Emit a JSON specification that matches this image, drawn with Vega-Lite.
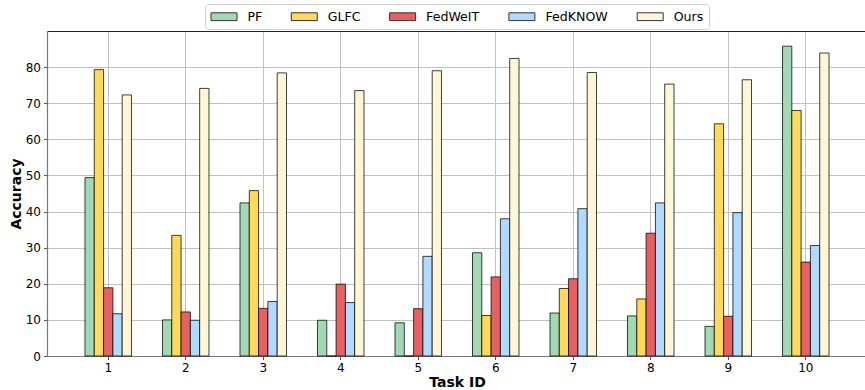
{
  "$schema": "https://vega.github.io/schema/vega-lite/v6.json",
  "width": 818,
  "height": 325,
  "autosize": {"type": "none"},
  "padding": {"left": 47, "top": 31, "right": 0, "bottom": 34},
  "background": "white",
  "config": {
    "font": "DejaVu Sans",
    "view": {"stroke": null},
    "axis": {"labelFont": "DejaVu Sans", "titleFont": "DejaVu Sans", "labelFontSize": 12, "titleFontSize": 14, "labelColor": "black", "titleColor": "black", "domainColor": "#777777", "domainWidth": 1.2, "tickColor": "#555555", "tickSize": 3.5, "gridColor": "#c0c0c0", "gridWidth": 1, "gridOpacity": 1},
    "legend": {"labelFont": "DejaVu Sans", "labelFontSize": 12.6, "labelColor": "black"}
  },
  "data": {
    "values": [
      {"task": 1, "method": "PF", "acc": 49.4},
      {"task": 1, "method": "GLFC", "acc": 79.3},
      {"task": 1, "method": "FedWeIT", "acc": 18.9},
      {"task": 1, "method": "FedKNOW", "acc": 11.7},
      {"task": 1, "method": "Ours", "acc": 72.3},
      {"task": 2, "method": "PF", "acc": 10.0},
      {"task": 2, "method": "GLFC", "acc": 33.4},
      {"task": 2, "method": "FedWeIT", "acc": 12.2},
      {"task": 2, "method": "FedKNOW", "acc": 9.9},
      {"task": 2, "method": "Ours", "acc": 74.1},
      {"task": 3, "method": "PF", "acc": 42.4},
      {"task": 3, "method": "GLFC", "acc": 45.8},
      {"task": 3, "method": "FedWeIT", "acc": 13.2},
      {"task": 3, "method": "FedKNOW", "acc": 15.1},
      {"task": 3, "method": "Ours", "acc": 78.4},
      {"task": 4, "method": "PF", "acc": 9.9},
      {"task": 4, "method": "GLFC", "acc": 0},
      {"task": 4, "method": "FedWeIT", "acc": 19.9},
      {"task": 4, "method": "FedKNOW", "acc": 14.8},
      {"task": 4, "method": "Ours", "acc": 73.5},
      {"task": 5, "method": "PF", "acc": 9.2},
      {"task": 5, "method": "GLFC", "acc": 0},
      {"task": 5, "method": "FedWeIT", "acc": 13.1},
      {"task": 5, "method": "FedKNOW", "acc": 27.6},
      {"task": 5, "method": "Ours", "acc": 79.0},
      {"task": 6, "method": "PF", "acc": 28.6},
      {"task": 6, "method": "GLFC", "acc": 11.2},
      {"task": 6, "method": "FedWeIT", "acc": 21.9},
      {"task": 6, "method": "FedKNOW", "acc": 38.0},
      {"task": 6, "method": "Ours", "acc": 82.4},
      {"task": 7, "method": "PF", "acc": 11.9},
      {"task": 7, "method": "GLFC", "acc": 18.7},
      {"task": 7, "method": "FedWeIT", "acc": 21.4},
      {"task": 7, "method": "FedKNOW", "acc": 40.8},
      {"task": 7, "method": "Ours", "acc": 78.5},
      {"task": 8, "method": "PF", "acc": 11.1},
      {"task": 8, "method": "GLFC", "acc": 15.8},
      {"task": 8, "method": "FedWeIT", "acc": 34.0},
      {"task": 8, "method": "FedKNOW", "acc": 42.4},
      {"task": 8, "method": "Ours", "acc": 75.3},
      {"task": 9, "method": "PF", "acc": 8.2},
      {"task": 9, "method": "GLFC", "acc": 64.3},
      {"task": 9, "method": "FedWeIT", "acc": 11.0},
      {"task": 9, "method": "FedKNOW", "acc": 39.7},
      {"task": 9, "method": "Ours", "acc": 76.5},
      {"task": 10, "method": "PF", "acc": 85.8},
      {"task": 10, "method": "GLFC", "acc": 68.0},
      {"task": 10, "method": "FedWeIT", "acc": 26.0},
      {"task": 10, "method": "FedKNOW", "acc": 30.6},
      {"task": 10, "method": "Ours", "acc": 83.9}
    ]
  },
  "layer": [
    {
      "mark": {"type": "bar", "stroke": "black", "strokeOpacity": 0.75, "strokeWidth": 1, "opacity": 1},
      "encoding": {
        "x": {
          "field": "task", "type": "ordinal", "title": "Task ID",
          "scale": {"paddingInner": 0.4, "paddingOuter": 0.49, "range": [0, 820]},
          "axis": {"labelAngle": 0, "grid": true, "bandPosition": 0.5, "titleFontWeight": "bold", "titlePadding": 2, "labelPadding": 3}
        },
        "xOffset": {"field": "method", "type": "nominal", "sort": ["PF", "GLFC", "FedWeIT", "FedKNOW", "Ours"], "scale": {"paddingInner": 0, "paddingOuter": 0}},
        "y": {
          "field": "acc", "type": "quantitative", "title": "Accuracy",
          "scale": {"domain": [0, 90], "nice": false, "zero": true},
          "axis": {"values": [0, 10, 20, 30, 40, 50, 60, 70, 80], "grid": true, "titleFontWeight": "bold", "titlePadding": 2, "labelPadding": 3}
        },
        "fill": {
          "field": "method", "type": "nominal", "sort": ["PF", "GLFC", "FedWeIT", "FedKNOW", "Ours"],
          "scale": {"domain": ["PF", "GLFC", "FedWeIT", "FedKNOW", "Ours"], "range": ["#a1d9b4", "#ffd95c", "#e76161", "#b0daff", "#fff6d5"]},
          "legend": {
            "title": null, "orient": "none", "direction": "horizontal", "legendX": 158, "legendY": -27,
            "symbolType": "M-1,-0.6H3V0.6H-1Z", "symbolSize": 169, "symbolStrokeColor": "#333333", "symbolStrokeWidth": 1, "symbolOpacity": 1,
            "labelOffset": 23, "columnPadding": 26.3, "padding": 5.5, "strokeColor": "#d0d0d0", "fillColor": "white", "cornerRadius": 3
          }
        }
      }
    },
    {
      "mark": {"type": "bar", "opacity": 0},
      "encoding": {
        "x": {"field": "task", "type": "ordinal", "axis": {"orient": "top", "labels": false, "ticks": false, "grid": false, "domain": true, "domainColor": "#222222", "domainWidth": 1.2, "title": null}}
      }
    }
  ],
  "resolve": {"axis": {"x": "independent"}}
}
